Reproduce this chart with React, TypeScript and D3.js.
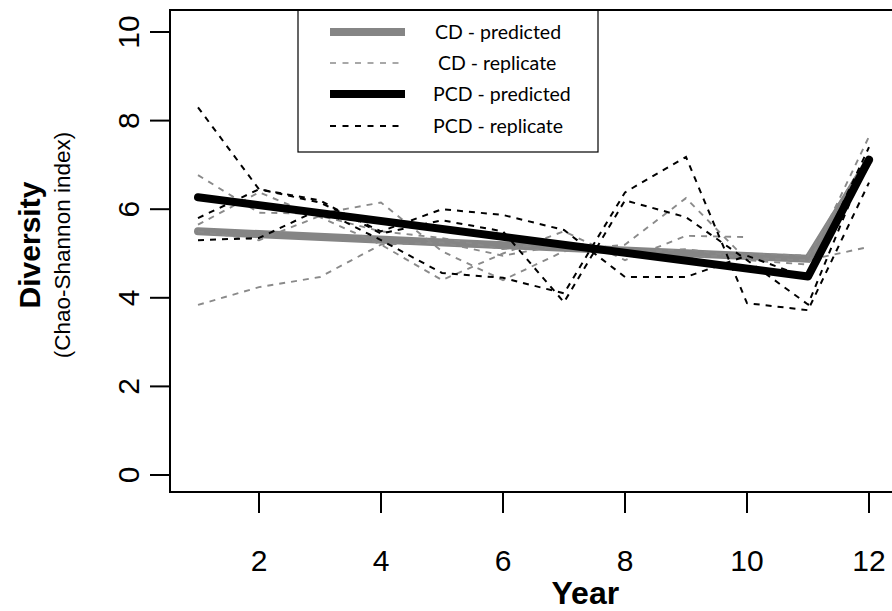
import React, { useEffect } from "react";
import * as d3 from "d3";

const years = [1, 2, 3, 4, 5, 6, 7, 8, 9, 10, 11, 12];
const xTicks = [2, 4, 6, 8, 10, 12];
const yTicks = [0, 2, 4, 6, 8, 10];

// CD replicates (gray dashed)
const cdRep1 = [6.77, 5.92, 5.9, 6.15, 5.05, 4.4, 5.05, 5.2, 6.25, 4.85, 4.75, 7.64];
const cdRep2 = [5.65, 6.38, 5.82, 5.2, 4.4, 5.0, 5.5, 4.85, 5.4, 5.37, null, null];
const cdRep3 = [5.5, 5.3, 5.85, 5.5, 5.35, 5.1, 5.25, 5.0, 5.1, 4.9, 4.85, 5.15];
const cdRep4 = [3.84, 4.24, 4.47, 5.2, 5.25, 4.95, 5.2, 5.0, 4.9, 5.0, 4.95, 7.25];

// PCD replicates (black dashed)
const pcdRep1 = [8.3, 6.45, 6.15, 5.5, 6.0, 5.87, 5.53, 4.47, 4.47, 4.95, 4.45, 7.4];
const pcdRep2 = [5.8, 6.45, 6.2, 5.45, 5.75, 5.5, 3.9, 6.2, 5.82, 4.85, 3.85, 7.2];
const pcdRep3 = [5.3, 5.35, 6.0, 5.3, 4.56, 4.45, 4.1, 6.38, 7.18, 3.88, 3.72, 6.6];

// Predicted (thick lines)
const predYears = [1, 11, 12];
const cdPredicted = [5.5, 4.88, 7.1];
const pcdPredicted = [6.27, 4.48, 7.12];

const legendLabels = ["CD - predicted", "CD - replicate", "PCD - predicted", "PCD - replicate"];

const W = 892;
const H = 611;

export default function App() {
  useEffect(() => {
    document.body.style.margin = "0";
  }, []);

  const x = d3.scaleLinear().domain([1, 12]).range([198, 869]);
  const y = d3.scaleLinear().domain([0, 10]).range([475, 32]);

  const line = d3
    .line<[number, number | null]>()
    .defined((d) => d[1] !== null)
    .x((d) => x(d[0]))
    .y((d) => y(d[1] as number));

  const mk = (xs: number[], vs: (number | null)[]) =>
    line(xs.map((yr, i) => [yr, vs[i]] as [number, number | null])) || "";

  const cdReps = [cdRep1, cdRep2, cdRep3, cdRep4];
  const pcdReps = [pcdRep1, pcdRep2, pcdRep3];

  const gray = "#858585";
  const dash = "6,6";
  const axisFont = "'Liberation Sans', Arial, Helvetica, sans-serif";

  const boxL = 170, boxT = 10, boxB = 492, boxR = 905;
  const legX = 298, legY = 10, legW = 300, legH = 142;
  const legendStyles = [
    { stroke: gray, width: 8, dash: null, textX: 435 },
    { stroke: "#8c8c8c", width: 1.5, dash: "6,6.5", textX: 438 },
    { stroke: "#000", width: 8, dash: null, textX: 433 },
    { stroke: "#000", width: 2, dash: "6,6.5", textX: 433 },
  ];
  const legRowY = [32, 63, 94, 126];

  return (
    <svg
      width={W}
      height={H}
      style={{ position: "absolute", left: 0, top: 0, display: "block", background: "#fff" }}
    >
      <defs>
        <clipPath id="plotclip">
          <rect x={boxL} y={boxT} width={boxR - boxL} height={boxB - boxT} />
        </clipPath>
      </defs>

      <g clipPath="url(#plotclip)">
        <path d={mk(predYears, cdPredicted)} fill="none" stroke={gray} strokeWidth={8} strokeLinejoin="round" strokeLinecap="round" />
        {cdReps.map((s, i) => (
          <path key={"cd" + i} d={mk(years, s)} fill="none" stroke="#8a8a8a" strokeWidth={1.9} strokeDasharray={dash} />
        ))}
        {pcdReps.map((s, i) => (
          <path key={"pcd" + i} d={mk(years, s)} fill="none" stroke="#000" strokeWidth={2} strokeDasharray={dash} />
        ))}
        <path d={mk(predYears, pcdPredicted)} fill="none" stroke="#000" strokeWidth={8} strokeLinejoin="round" strokeLinecap="round" />
      </g>

      {/* legend */}
      <rect x={legX} y={legY} width={legW} height={legH} fill="#fff" stroke="#000" strokeWidth={1.2} />
      {legendLabels.map((lab, i) => {
        const st = legendStyles[i];
        return (
          <g key={lab}>
            <line
              x1={330}
              x2={405}
              y1={legRowY[i]}
              y2={legRowY[i]}
              stroke={st.stroke}
              strokeWidth={st.width}
              strokeDasharray={st.dash || undefined}
            />
            <text
              x={st.textX}
              y={legRowY[i]}
              dy="0.35em"
              fontFamily="Lato, 'Open Sans', sans-serif"
              fontSize={19.5}
              fill="#000"
            >
              {lab}
            </text>
          </g>
        );
      })}

      {/* box */}
      <path d={`M${boxR},${boxT}H${boxL}V${boxB}H${boxR}`} fill="none" stroke="#000" strokeWidth={2} />

      {/* y axis */}
      {yTicks.map((t) => (
        <g key={"yt" + t}>
          <line x1={150} x2={boxL} y1={y(t)} y2={y(t)} stroke="#000" strokeWidth={2} />
          <text
            transform={`translate(128,${y(t)}) rotate(-90)`}
            textAnchor="middle"
            dy="0.36em"
            fontFamily={axisFont}
            fontSize={30}
          >
            {t}
          </text>
        </g>
      ))}

      {/* x axis */}
      {xTicks.map((t) => (
        <g key={"xt" + t}>
          <line x1={x(t)} x2={x(t)} y1={boxB} y2={boxB + 21} stroke="#000" strokeWidth={2} />
          <text x={x(t)} y={560} textAnchor="middle" dy="0.36em" fontFamily={axisFont} fontSize={30}>
            {t}
          </text>
        </g>
      ))}

      {/* axis titles */}
      <text
        x={x(7.35)}
        y={604}
        textAnchor="middle"
        fontFamily={axisFont}
        fontSize={32}
        fontWeight="bold"
      >
        Year
      </text>
      <text
        transform={`translate(29,245) rotate(-90)`}
        textAnchor="middle"
        dy="0.36em"
        fontFamily={axisFont}
        fontSize={30}
        fontWeight="bold"
      >
        Diversity
      </text>
      <text
        transform={`translate(62,245) rotate(-90)`}
        textAnchor="middle"
        dy="0.36em"
        fontFamily={axisFont}
        fontSize={22.5}
      >
        (Chao-Shannon index)
      </text>
    </svg>
  );
}
